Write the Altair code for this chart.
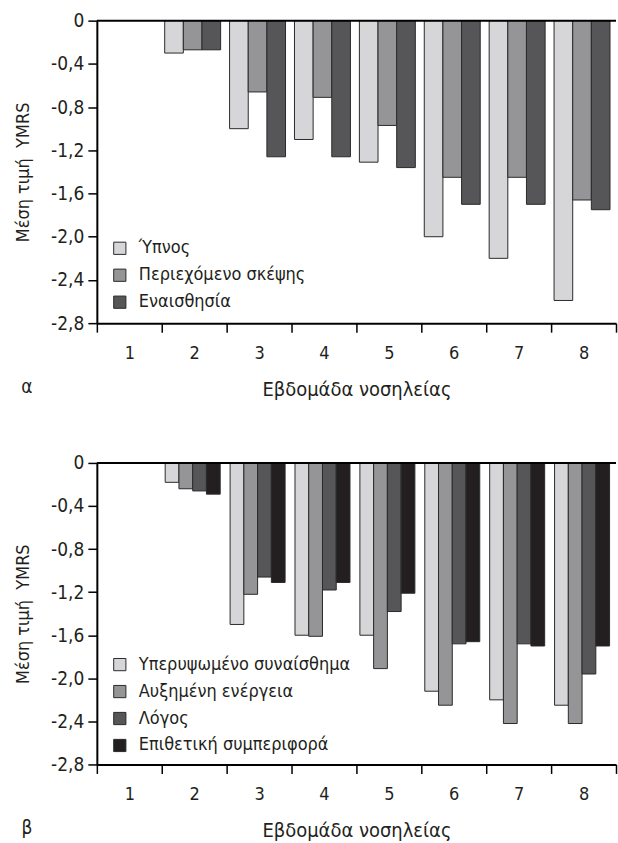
import altair as alt
import pandas as pd

weeks = ["1", "2", "3", "4", "5", "6", "7", "8"]

# Panel α
series_a = ["Ύπνος", "Περιεχόμενο σκέψης", "Εναισθησία"]
sleep = [None, -0.30, -1.00, -1.10, -1.31, -2.00, -2.20, -2.59]
thought = [None, -0.27, -0.66, -0.71, -0.97, -1.45, -1.45, -1.66]
insight = [None, -0.27, -1.26, -1.26, -1.36, -1.70, -1.70, -1.75]
colors_a = ["#d6d6d8", "#959597", "#565658"]

# Panel β
series_b = ["Υπερυψωμένο συναίσθημα", "Αυξημένη ενέργεια", "Λόγος", "Επιθετική συμπεριφορά"]
mood = [None, -0.18, -1.50, -1.60, -1.60, -2.12, -2.20, -2.25]
energy = [None, -0.24, -1.22, -1.61, -1.91, -2.25, -2.42, -2.42]
speech = [None, -0.26, -1.06, -1.18, -1.38, -1.68, -1.68, -1.96]
aggr = [None, -0.29, -1.11, -1.11, -1.21, -1.66, -1.70, -1.70]
colors_b = ["#d6d6d8", "#959597", "#565658", "#231f20"]

y_ticks = [0, -0.4, -0.8, -1.2, -1.6, -2.0, -2.4, -2.8]

FONT = "DejaVu Sans Condensed"


def long_df(series, arrays):
    rows = []
    for s, arr in zip(series, arrays):
        for w, v in zip(weeks, arr):
            if v is not None:
                rows.append({"week": w, "series": s, "value": v})
    return pd.DataFrame(rows)


def panel(df, series, colors, height, letter, legend_y, pad_outer, align):
    bars = alt.Chart(df).mark_bar(stroke="#2a2a2a", strokeWidth=1).encode(
        x=alt.X(
            "week:N",
            sort=weeks,
            scale=alt.Scale(domain=weeks, paddingInner=0, paddingOuter=0),
            axis=alt.Axis(
                title="Εβδομάδα νοσηλείας",
                titleFontSize=20,
                labelAngle=0,
                tickBand="extent",
                tickSize=9,
                labelPadding=12,
                titlePadding=17,
            ),
        ),
        xOffset=alt.XOffset(
            "series:N",
            sort=series,
            scale=alt.Scale(domain=series, paddingInner=0, paddingOuter=pad_outer, align=align),
        ),
        y=alt.Y(
            "value:Q",
            scale=alt.Scale(domain=[-2.8, 0], nice=False, zero=True),
            axis=alt.Axis(
                title="Μέση τιμή\u00a0 YMRS",
                values=y_ticks,
                labelExpr="datum.value == 0 ? '0' : '-' + replace(format(-datum.value, '.1f'), '.', ',')",
                labelFontSize=19,
                tickSize=9,
                labelPadding=4,
                titlePadding=18,
            ),
        ),
        color=alt.Color(
            "series:N",
            sort=series,
            scale=alt.Scale(domain=series, range=colors),
            legend=alt.Legend(
                title=None,
                orient="none",
                legendX=14,
                legendY=legend_y,
                symbolType="square",
                symbolSize=150,
                symbolStrokeColor="#2a2a2a",
                symbolStrokeWidth=1,
                labelFontSize=18,
                labelFont=FONT,
                labelColor="#231f20",
                labelOffset=10,
                labelLimit=0,
                rowPadding=9,
                padding=0,
            ),
        ),
    )
    zero = alt.Chart(pd.DataFrame({"z": [0]})).mark_rule(color="black", strokeWidth=2).encode(
        y=alt.datum(0)
    )
    lab = alt.Chart(pd.DataFrame({"t": [letter]})).mark_text(
        font=FONT, fontSize=19, color="#231f20", align="center", baseline="middle"
    ).encode(text="t:N", x=alt.value(-70), y=alt.value(height + 64))
    return alt.layer(bars, zero, lab).properties(width=520, height=height)


top = panel(long_df(series_a, [sleep, thought, insight]), series_a, colors_a, 303, "α", 219, 0.24, 0.33)
bottom = panel(long_df(series_b, [mood, energy, speech, aggr]), series_b, colors_b, 302, "β", 193, 0.36, 0.35)

chart = alt.vconcat(top, bottom, spacing=140, bounds="flush").resolve_scale(
    color="independent", x="independent", xOffset="independent"
).properties(
    padding={"left": 14, "top": 11, "right": 1, "bottom": 0},
    background="white",
).configure_view(stroke=None).configure_axis(
    domainColor="black",
    domainWidth=2,
    tickColor="black",
    tickWidth=1.5,
    labelFont=FONT,
    titleFont=FONT,
    labelFontSize=18,
    titleFontSize=18,
    labelColor="#231f20",
    titleColor="#231f20",
    titleFontWeight="normal",
    grid=False,
)

chart.save("out.html", embed_options={"renderer": "svg", "actions": False})
